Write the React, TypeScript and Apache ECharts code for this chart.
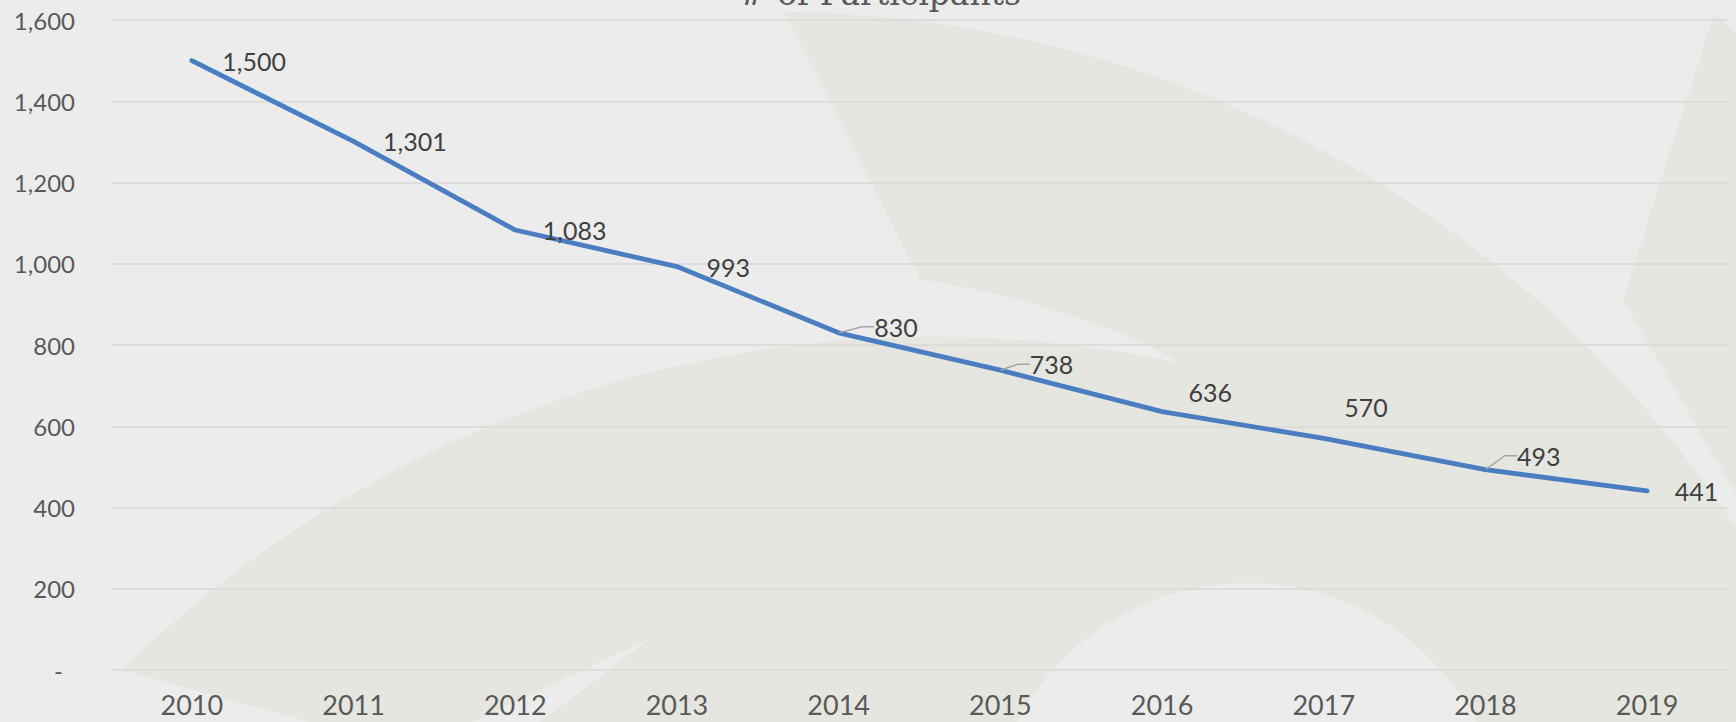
import React, { useEffect, useRef } from "react";
import * as echarts from "echarts";

const years = ["2010", "2011", "2012", "2013", "2014", "2015", "2016", "2017", "2018", "2019"];
const participants = [1500, 1301, 1083, 993, 830, 738, 636, 570, 493, 441];
const yTicks = [0, 200, 400, 600, 800, 1000, 1200, 1400, 1600];
const titleText = "# of Participants";

// label nudges (px) relative to default "right" placement
const labelNudgeX = [3, 2, 0, 2, 8, 2, -1, -7, 4, 0];
const labelNudgeY = [0, 0, 0, 0, -6, -6, -20, -31, -14, 0];
const leaderIdx = [4, 5, 8];

const BG = "#ececec";
const BEIGE = "#e6e6e0";

const MAIN_D =
  "M 784 12 L 920 279 C 990 290 1110 320 1180 363 A 1159 1159 0 0 0 122 670 L 310 722 L 1736 722 L 1736 528 A 1153 1153 0 0 0 784 12 Z";
const SPIKE_D = "M 1714 13 L 1736 34 L 1736 494 L 1623 300 Z";
const SLIVER_D = "M 653 637 L 472 722 L 540 722 Z";

let registered = false;
function registerShapes() {
  if (registered) return;
  registered = true;
  echarts.graphic.registerShape("bgMain", echarts.graphic.extendPath(MAIN_D, {}));
  echarts.graphic.registerShape("bgSpike", echarts.graphic.extendPath(SPIKE_D, {}));
  echarts.graphic.registerShape("bgSliver", echarts.graphic.extendPath(SLIVER_D, {}));
}

export default function App() {
  const ref = useRef<HTMLDivElement>(null);

  useEffect(() => {
    if (!ref.current) return;
    registerShapes();
    const chart = echarts.init(ref.current, undefined, { renderer: "svg" });
    const font = "Lato";
    const option: any = {
      animation: false,
      backgroundColor: BG,
      graphic: [
        { type: "bgMain", x: 0, y: 0, z: -10, silent: true, style: { fill: BEIGE } },
        { type: "bgSpike", x: 0, y: 0, z: -10, silent: true, style: { fill: BEIGE } },
        { type: "circle", z: -9, silent: true, shape: { cx: 1247, cy: 843, r: 260 }, style: { fill: BG } },
        { type: "bgSliver", x: 0, y: 0, z: -9, silent: true, style: { fill: BG } },
        {
          type: "text",
          x: 880,
          y: -7,
          z: 5,
          silent: true,
          style: {
            text: titleText,
            fill: "#595959",
            fontFamily: "DejaVu Serif",
            fontSize: 33,
            textAlign: "center",
            textVerticalAlign: "middle",
          },
        },
      ],
      grid: { left: 111, right: 8, top: 20, bottom: 52, containLabel: false },
      xAxis: {
        type: "category",
        data: years,
        boundaryGap: true,
        axisLine: { show: false },
        axisTick: { show: false },
        axisLabel: { color: "#595959", fontFamily: font, fontSize: 27, margin: 21 },
        splitLine: { show: false },
      },
      yAxis: {
        type: "value",
        min: yTicks[0],
        max: yTicks[yTicks.length - 1],
        interval: yTicks[1] - yTicks[0],
        axisLine: { show: false },
        axisTick: { show: false },
        axisLabel: {
          color: "#595959",
          fontFamily: font,
          fontSize: 24,
          margin: 36,
          formatter: (v: number) => (v === 0 ? "-\u2002" : v.toLocaleString("en-US")),
        },
        splitLine: { show: true, lineStyle: { color: "#d9d9d9", width: 1.5 } },
      },
      series: [
        {
          type: "line",
          data: participants.map((v, i) => ({
            value: v,
            labelLine: { show: leaderIdx.includes(i) },
          })),
          symbol: "circle",
          symbolSize: 1,
          showSymbol: true,
          itemStyle: { color: "#4a7ec1" },
          lineStyle: { color: "#4a7ec1", width: 4.8, cap: "round", join: "round" },
          label: {
            show: true,
            position: "right",
            distance: 27,
            color: "#404040",
            fontFamily: font,
            fontSize: 25,
            formatter: (p: any) => Number(p.value).toLocaleString("en-US"),
          },
          labelLine: {
            show: false,
            length2: 12,
            lineStyle: { color: "#a6a6a6", width: 1.5 },
          },
          labelLayout: (params: any) => {
            const i = params.dataIndex;
            return { dx: labelNudgeX[i], dy: labelNudgeY[i] };
          },
          z: 3,
        },
      ],
    };
    chart.setOption(option);
    const onResize = () => chart.resize();
    window.addEventListener("resize", onResize);
    return () => {
      window.removeEventListener("resize", onResize);
      chart.dispose();
    };
  }, []);

  return (
    <div
      ref={ref}
      style={{ position: "absolute", left: 0, top: 0, width: "100vw", height: "100vh", overflow: "hidden" }}
    />
  );
}
